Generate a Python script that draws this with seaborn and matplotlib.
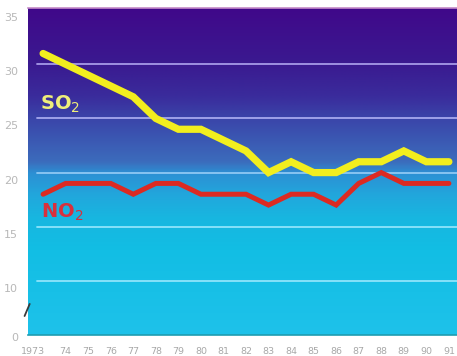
import numpy as np
import matplotlib
matplotlib.use("Agg")
import matplotlib.pyplot as plt
import matplotlib.transforms as mtransforms
from matplotlib.colors import LinearSegmentedColormap
import pandas as pd
import seaborn as sns

# Emissions index by year (broken y axis: the baseline "0" sits one step below 10)
years = [1973, 1974, 1975, 1976, 1977, 1978, 1979, 1980, 1981, 1982,
         1983, 1984, 1985, 1986, 1987, 1988, 1989, 1990, 1991]
so2 = [31, 30, 29, 28, 27, 25, 24, 24, 23, 22, 20, 21, 20, 20, 21, 21, 22, 21, 21]
no2 = [18, 19, 19, 19, 18, 19, 19, 18, 18, 18, 17, 18, 18, 17, 19, 20, 19, 19, 19]
x_labels = ["1973", "74", "75", "76", "77", "78", "79", "80", "81", "82",
            "83", "84", "85", "86", "87", "88", "89", "90", "91"]
y_ticks = [5, 10, 15, 20, 25, 30, 35]
y_labels = ["0", "10", "15", "20", "25", "30", "35"]

df = pd.DataFrame({"year": years, "SO2": so2, "NO2": no2})

sns.set_style("white")
plt.rcParams["font.family"] = ["DejaVu Sans"]

fig = plt.figure(figsize=(4.57, 3.56), dpi=100)
ax = fig.add_axes([28 / 457, 21 / 356, 429 / 457, 327 / 356])

x0, x1 = 1972.33, 1991.36
y0, y1 = 5.0, 35.2
ax.set_xlim(x0, x1)
ax.set_ylim(y0, y1)

# vertical gradient background: indigo at the top fading to cyan at the bottom
cmap = LinearSegmentedColormap.from_list(
    "sky",
    [(0.0, "#1ec2ea"), (0.26, "#12bee4"), (0.36, "#18b6e0"), (0.43, "#22a6dc"),
     (0.495, "#2c90d4"), (0.53, "#3c6cbc"), (0.66, "#3a46aa"), (0.73, "#3a2c9c"),
     (0.83, "#3a1a90"), (1.0, "#40088a")])
grad = np.linspace(0, 1, 256).reshape(-1, 1)
ax.imshow(grad, cmap=cmap, origin="lower", aspect="auto",
          extent=[x0, x1, y0, y1], zorder=0)

# horizontal guide lines
grid_cols = {10: "#8ee4fb", 15: "#8ee4fb", 20: "#8ec8f4", 25: "#a6a8ee", 30: "#a69ae8"}
for lvl, col in grid_cols.items():
    ax.axhline(lvl, xmin=0.021, xmax=1.0, color=col, lw=1.3, zorder=1)

sns.lineplot(data=df, x="year", y="SO2", ax=ax, color="#f2ee1e", lw=5.2,
             zorder=3, solid_joinstyle="miter")
sns.lineplot(data=df, x="year", y="NO2", ax=ax, color="#dc2a22", lw=3.6,
             zorder=2, solid_joinstyle="miter")

ax.text(1972.85, 25.8, "SO$_2$", color="#eeee7a", fontsize=14, fontweight="bold",
        ha="left", va="baseline", zorder=4)
ax.text(1972.9, 15.8, "NO$_2$", color="#d8303c", fontsize=14, fontweight="bold",
        ha="left", va="baseline", zorder=4)

# axes decoration
ax.set_xlabel("")
ax.set_ylabel("")
for side in ["left", "right"]:
    ax.spines[side].set_visible(False)
ax.spines["top"].set_color("#c58ac8")
ax.spines["top"].set_linewidth(1.2)
ax.spines["bottom"].set_color("#1f9cb0")
ax.spines["bottom"].set_linewidth(1.2)

ax.set_xticks(years)
ax.set_xticklabels(x_labels, fontsize=6.8, color="#a8a8a8")
ax.set_yticks(y_ticks)
ax.set_yticklabels(y_labels, fontsize=8, color="#b8b8b8")
ax.tick_params(axis="x", length=0, pad=9)
ax.tick_params(axis="y", length=0, pad=7)
first = ax.get_xticklabels()[0]
first.set_horizontalalignment("right")
first.set_transform(first.get_transform()
                    + mtransforms.ScaledTranslation(2 / 100, 0, fig.dpi_scale_trans))

# y labels sit a little below their guide lines
for lab, lvl in zip(ax.get_yticklabels(), y_ticks):
    dy = -2 if lvl == 5 else -7
    lab.set_transform(lab.get_transform()
                      + mtransforms.ScaledTranslation(0, dy / 100, fig.dpi_scale_trans))

# axis break mark
ax.plot([-0.008, 0.004], [0.058, 0.095], transform=ax.transAxes, color="#3a3a3a",
        lw=1.3, clip_on=False, zorder=5)

fig.savefig("out.png", dpi=100, facecolor="white")
